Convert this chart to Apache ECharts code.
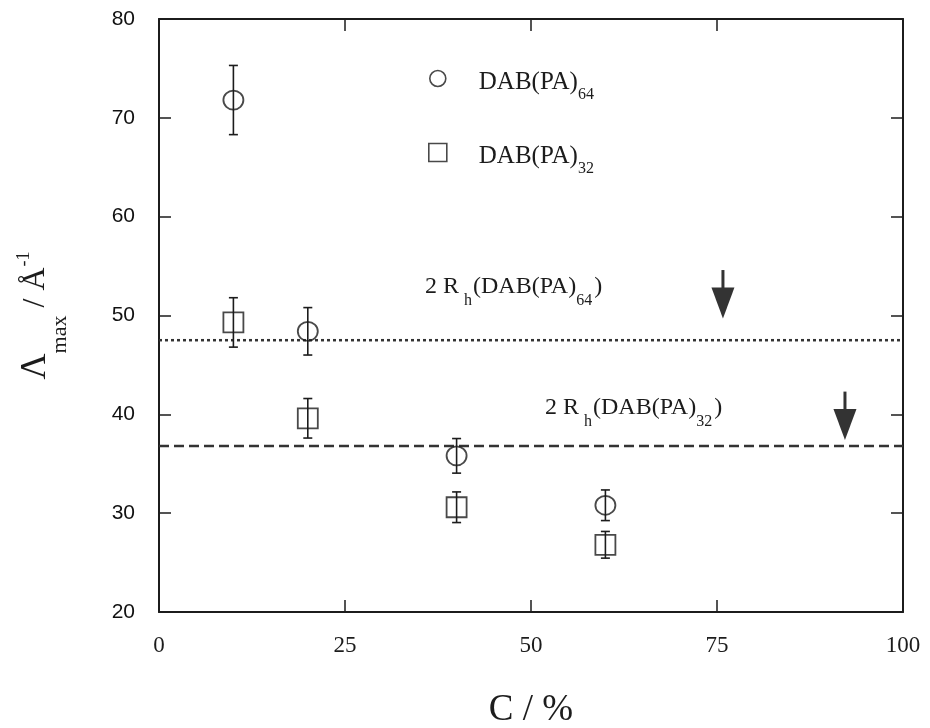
<!DOCTYPE html>
<html>
<head>
<meta charset="utf-8">
<script src="https://cdn.jsdelivr.net/npm/echarts@6/dist/echarts.min.js"></script>
<style>
html,body{margin:0;padding:0;background:#fff;}
#chart{width:930px;height:728px;}
</style>
</head>
<body>
<div id="chart"></div>
<script>
// ---- data ----
const conc = [10, 20, 40, 60];                 // C / %
const lambda64 = [71.8, 48.4, 35.8, 30.8];     // DAB(PA)64
const err64 = [3.5, 2.4, 1.75, 1.55];
const lambda32 = [49.3, 39.6, 30.6, 26.8];     // DAB(PA)32
const err32 = [2.5, 2.0, 1.55, 1.35];
const hydroLevels = [47.5, 36.8];              // 2Rh(DAB(PA)64), 2Rh(DAB(PA)32)
const arrowX = [75.8, 92.2];
const arrowTop = [54.6, 42.3];
const arrowTip = [49.7, 37.4];
const xRange = [0, 100];
const yRange = [20, 80];
const xStep = 25;
const yStep = 10;

const INK = '#1c1c1c';
const SERIF = "'Liberation Serif','Times New Roman',serif";
const SANS = "'Liberation Sans',Arial,sans-serif";

const pts64 = conc.map((c, i) => [c, lambda64[i]]);
const pts32 = conc.map((c, i) => [c, lambda32[i]]);
const bars64 = conc.map((c, i) => [c, lambda64[i] - err64[i], lambda64[i] + err64[i]]);
const bars32 = conc.map((c, i) => [c, lambda32[i] - err32[i], lambda32[i] + err32[i]]);
const arrows = arrowX.map((x, i) => [x, arrowTop[i], arrowTip[i]]);

function errRender(params, api) {
  const x = api.value(0), lo = api.value(1), hi = api.value(2);
  const p1 = api.coord([x, lo]), p2 = api.coord([x, hi]);
  const w = 4.5;
  const st = {stroke: INK, lineWidth: 1.6};
  return {type: 'group', children: [
    {type: 'line', shape: {x1: p1[0], y1: p1[1], x2: p2[0], y2: p2[1]}, style: st},
    {type: 'line', shape: {x1: p1[0] - w, y1: p1[1], x2: p1[0] + w, y2: p1[1]}, style: st},
    {type: 'line', shape: {x1: p2[0] - w, y1: p2[1], x2: p2[0] + w, y2: p2[1]}, style: st}
  ]};
}
function arrowRender(params, api) {
  const x = api.value(0);
  const top = api.coord([x, api.value(1)]);
  const tip = api.coord([x, api.value(2)]);
  const headL = 31, headW = 11.5;
  return {type: 'group', children: [
    {type: 'line', shape: {x1: top[0], y1: top[1], x2: tip[0], y2: tip[1] - headL + 2},
      style: {stroke: '#333', lineWidth: 3}},
    {type: 'polygon', shape: {points: [[tip[0], tip[1]], [tip[0] - headW, tip[1] - headL], [tip[0] + headW, tip[1] - headL]]},
      style: {fill: '#333'}}
  ]};
}

const axisLineStyle = {color: INK, width: 2};
function legendRich(padLeft) {
  return {
    m: {fontFamily: SERIF, fontSize: 25, color: INK, lineHeight: 48, padding: [8, 0, 0, padLeft]},
    s: {fontFamily: SERIF, fontSize: 16, color: INK, verticalAlign: 'bottom'}
  };
}
const annRich = {
  m: {fontFamily: SERIF, fontSize: 24, fill: INK, lineHeight: 44},
  h: {fontFamily: SERIF, fontSize: 16, fill: INK, lineHeight: 16, verticalAlign: 'bottom', padding: [0, 1, 0, 5]},
  s: {fontFamily: SERIF, fontSize: 16, fill: INK, lineHeight: 16, verticalAlign: 'bottom', padding: [0, 2, 0, 0]}
};

const option = {
  backgroundColor: '#fff',
  animation: false,
  grid: {left: 159, right: 27, top: 19, bottom: 116, outerBoundsMode: 'none', containLabel: false},
  xAxis: [{
    type: 'value', min: xRange[0], max: xRange[1], interval: xStep, position: 'bottom',
    axisLine: {show: true, onZero: false, lineStyle: axisLineStyle},
    axisTick: {show: true, inside: true, length: 12, lineStyle: {color: INK, width: 1.5}},
    axisLabel: {fontFamily: SERIF, fontSize: 23, color: INK, margin: 22},
    splitLine: {show: false},
    name: 'C / %', nameLocation: 'middle', nameGap: 80,
    nameTextStyle: {fontFamily: SERIF, fontSize: 37, color: INK, lineHeight: 37}
  }, {
    type: 'value', min: xRange[0], max: xRange[1], interval: xStep, position: 'top',
    axisLine: {show: true, onZero: false, lineStyle: axisLineStyle},
    axisTick: {show: true, inside: true, length: 12, lineStyle: {color: INK, width: 1.5}},
    axisLabel: {show: false}, splitLine: {show: false}
  }],
  yAxis: [{
    type: 'value', min: yRange[0], max: yRange[1], interval: yStep, position: 'left',
    axisLine: {show: true, onZero: false, lineStyle: axisLineStyle},
    axisTick: {show: true, inside: true, length: 12, lineStyle: {color: INK, width: 1.5}},
    axisLabel: {fontFamily: SANS, fontSize: 21, color: '#111', margin: 24},
    splitLine: {show: false},
    name: '{L|Λ}{s|max}{n| / Å}{p|-1}', nameLocation: 'middle', nameRotate: 90, nameGap: 88,
    nameMoveOverlap: false,
    nameTextStyle: {
      rich: {
        L: {fontFamily: SERIF, fontSize: 36, color: INK, lineHeight: 70},
        s: {fontFamily: SERIF, fontSize: 22, color: INK, lineHeight: 22, verticalAlign: 'bottom'},
        n: {fontFamily: SERIF, fontSize: 32, color: INK, lineHeight: 70},
        p: {fontFamily: SERIF, fontSize: 18, color: INK, verticalAlign: 'top', padding: [14, 0, 0, 1]}
      }
    }
  }, {
    type: 'value', min: yRange[0], max: yRange[1], interval: yStep, position: 'right',
    axisLine: {show: true, onZero: false, lineStyle: axisLineStyle},
    axisTick: {show: true, inside: true, length: 12, lineStyle: {color: INK, width: 1.5}},
    axisLabel: {show: false}, splitLine: {show: false}
  }],
  legend: [{
    data: [{name: 'DAB(PA)64', icon: 'circle'}],
    left: 429, top: 62, padding: 0, itemWidth: 16, itemHeight: 16, selectedMode: false,
    formatter: () => '{m|DAB(PA)}{s|64}',
    textStyle: {rich: legendRich(28)},
    itemStyle: {color: 'rgba(0,0,0,0)', borderColor: INK, borderWidth: 1.6}
  }, {
    data: [{name: 'DAB(PA)32', icon: 'rect'}],
    left: 428, top: 136, padding: 0, itemWidth: 18, itemHeight: 18, selectedMode: false,
    formatter: () => '{m|DAB(PA)}{s|32}',
    textStyle: {rich: legendRich(27)},
    itemStyle: {color: 'rgba(0,0,0,0)', borderColor: INK, borderWidth: 1.6}
  }],
  graphic: [{
    type: 'text', x: 425, y: 287,
    style: {text: '{m|2 R}{h|h}{m|(DAB(PA)}{s|64}{m|)}', rich: annRich, verticalAlign: 'middle', align: 'left', fill: INK}
  }, {
    type: 'text', x: 545, y: 408,
    style: {text: '{m|2 R}{h|h}{m|(DAB(PA)}{s|32}{m|)}', rich: annRich, verticalAlign: 'middle', align: 'left', fill: INK}
  }],
  series: [
    {
      name: 'hline64', type: 'line', data: [[xRange[0], hydroLevels[0]], [xRange[1], hydroLevels[0]]],
      symbol: 'none', lineStyle: {color: '#333', width: 2.5, type: [3, 3]}, silent: true, z: 1
    },
    {
      name: 'hline32', type: 'line', data: [[xRange[0], hydroLevels[1]], [xRange[1], hydroLevels[1]]],
      symbol: 'none', lineStyle: {color: '#333', width: 2.5, type: [10, 5]}, silent: true, z: 1
    },
    {name: 'err64', type: 'custom', renderItem: errRender, data: bars64, encode: {x: 0, y: [1, 2]}, z: 2},
    {name: 'err32', type: 'custom', renderItem: errRender, data: bars32, encode: {x: 0, y: [1, 2]}, z: 2},
    {
      name: 'DAB(PA)64', type: 'scatter', data: pts64, symbol: 'circle', symbolSize: [20, 19],
      itemStyle: {color: 'rgba(0,0,0,0)', borderColor: INK, borderWidth: 1.8}, z: 3
    },
    {
      name: 'DAB(PA)32', type: 'scatter', data: pts32, symbol: 'rect', symbolSize: [20, 20],
      itemStyle: {color: 'rgba(0,0,0,0)', borderColor: INK, borderWidth: 1.8}, z: 3
    },
    {name: 'arrows', type: 'custom', renderItem: arrowRender, data: arrows, encode: {x: 0, y: [1, 2]}, z: 4}
  ]
};

const chart = echarts.init(document.getElementById('chart'), null, {renderer: 'canvas'});
chart.setOption(option);
</script>
</body>
</html>
